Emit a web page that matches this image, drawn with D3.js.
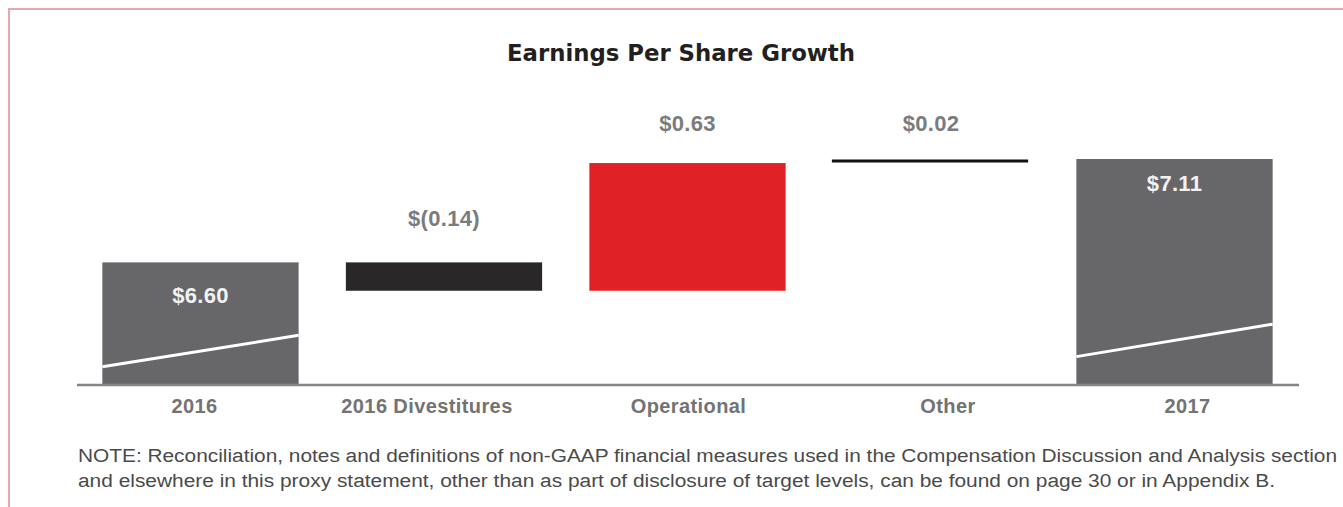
<!DOCTYPE html>
<html>
<head>
<meta charset="utf-8">
<script src="https://cdn.jsdelivr.net/npm/d3@7"></script>
<style>
  body { margin: 0; background: #fff; }
  svg { display: block; }
</style>
</head>
<body>
<div id="chart"></div>
<script>
// EPS bridge, 2016 -> 2017
const categories = ["2016", "2016 Divestitures", "Operational", "Other", "2017"];
const values = [6.60, -0.14, 0.63, 0.02, 7.11];
const kinds = ["total", "delta", "delta", "delta", "total"];
const valueLabels = ["$6.60", "$(0.14)", "$0.63", "$0.02", "$7.11"];
// axis is broken: bars start from this value, white slash marks the break
const axisFloor = 6.0;
const breakLeft = [6.085, 6.135];
const breakRight = [6.24, 6.295];

const noteLines = [
  "NOTE: Reconciliation, notes and definitions of non-GAAP financial measures used in the Compensation Discussion and Analysis section",
  "and elsewhere in this proxy statement, other than as part of disclosure of target levels, can be found on page 30 or in Appendix B."
];

const width = 1343, height = 507;
const margin = { left: 78, right: 46, top: 159, bottom: 123 };

const svg = d3.select("#chart").append("svg")
  .attr("width", width)
  .attr("height", height);

// page frame
svg.append("path")
  .attr("d", `M9,${height + 5} V9 H${width + 5}`)
  .attr("fill", "none")
  .attr("stroke", "#eaa5ac")
  .attr("stroke-width", 2);

svg.append("text")
  .attr("x", 681)
  .attr("y", 61)
  .attr("text-anchor", "middle")
  .attr("font-family", "'DejaVu Sans Condensed', 'DejaVu Sans', sans-serif")
  .attr("font-weight", "bold")
  .attr("font-size", 23)
  .attr("fill", "#231f20")
  .attr("textLength", 348)
  .attr("lengthAdjust", "spacingAndGlyphs")
  .text("Earnings Per Share Growth");

// running totals for the waterfall
let running = 0;
const data = categories.map((c, i) => {
  let start, end;
  if (kinds[i] === "total") {
    start = axisFloor; end = values[i]; running = values[i];
  } else {
    start = running; end = running + values[i]; running = end;
  }
  return { cat: c, kind: kinds[i], value: values[i], start, end, label: valueLabels[i] };
});

const x = d3.scaleBand()
  .domain(categories)
  .range([margin.left, width - margin.right])
  .paddingInner(0.194)
  .paddingOuter(0.1);

const y = d3.scaleLinear()
  .domain([axisFloor, 7.11])
  .range([height - margin.bottom, margin.top]);

const fills = {
  "2016": "#67676a",
  "2016 Divestitures": "#2a2728",
  "Operational": "#e02226",
  "2017": "#67676a"
};

const g = svg.append("g");

// bars (the tiny "Other" step is drawn as a line)
g.selectAll("rect.bar")
  .data(data.filter(d => d.cat !== "Other"))
  .join("rect")
  .attr("class", "bar")
  .attr("x", d => x(d.cat))
  .attr("width", x.bandwidth())
  .attr("y", d => y(Math.max(d.start, d.end)))
  .attr("height", d => Math.abs(y(d.start) - y(d.end)))
  .attr("fill", d => fills[d.cat]);

g.selectAll("line.step")
  .data(data.filter(d => d.cat === "Other"))
  .join("line")
  .attr("class", "step")
  .attr("x1", d => x(d.cat) - 1)
  .attr("x2", d => x(d.cat) + x.bandwidth() - 1)
  .attr("y1", d => y(d.end) + 2)
  .attr("y2", d => y(d.end) + 2)
  .attr("stroke", "#111")
  .attr("stroke-width", 3);

// axis break slashes on the total bars
const totals = data.filter(d => d.kind === "total");
g.selectAll("line.break")
  .data(totals)
  .join("line")
  .attr("class", "break")
  .attr("x1", d => x(d.cat))
  .attr("x2", d => x(d.cat) + x.bandwidth())
  .attr("y1", (d, i) => y(breakLeft[i]))
  .attr("y2", (d, i) => y(breakRight[i]))
  .attr("stroke", "#fff")
  .attr("stroke-width", 3);

// baseline
// the category labels in the original sit a little off the bar centres
const tickNudge = { "2016": -6, "2016 Divestitures": -17, "Operational": 1, "Other": 17, "2017": 13 };
const xAxis = g.append("g")
  .attr("transform", `translate(0,${height - margin.bottom + 1})`)
  .call(d3.axisBottom(x).tickSize(0).tickPadding(14));
xAxis.select(".domain")
  .attr("d", `M${margin.left - 1},0H${width - margin.right + 2}`)
  .attr("stroke", "#858585")
  .attr("stroke-width", 2.5);
xAxis.selectAll(".tick text")
  .attr("dx", d => tickNudge[d])
  .attr("font-family", "'Liberation Sans', Arial, sans-serif")
  .attr("font-weight", "bold")
  .attr("font-size", 20)
  .attr("letter-spacing", 0.4)
  .attr("fill", "#737373");

// value labels: white inside the totals, grey above the steps
g.selectAll("text.val")
  .data(data)
  .join("text")
  .attr("class", "val")
  .attr("x", d => x(d.cat) + x.bandwidth() / 2)
  .attr("y", (d, i) => {
    if (d.kind === "total") return y(d.end) + (i === 0 ? 41 : 32);
    return y(Math.max(d.start, d.end)) - (i === 1 ? 36 : i === 2 ? 32 : 28);
  })
  .attr("text-anchor", "middle")
  .attr("font-family", "'Liberation Sans', Arial, sans-serif")
  .attr("font-weight", "bold")
  .attr("font-size", 22)
  .attr("letter-spacing", 0.3)
  .attr("fill", d => d.kind === "total" ? "#f2f2f2" : "#7b7b7d")
  .text(d => d.label);

// footnote
svg.selectAll("text.note")
  .data(noteLines)
  .join("text")
  .attr("class", "note")
  .attr("x", 78)
  .attr("y", (d, i) => 462 + i * 25)
  .attr("font-family", "'Liberation Sans Narrow', 'Liberation Sans', Arial, sans-serif")
  .attr("font-size", 18)
  .attr("fill", "#4a4a4a")
  .attr("textLength", (d, i) => i === 0 ? 1259 : 1197)
  .attr("lengthAdjust", "spacingAndGlyphs")
  .text(d => d);
</script>
</body>
</html>
